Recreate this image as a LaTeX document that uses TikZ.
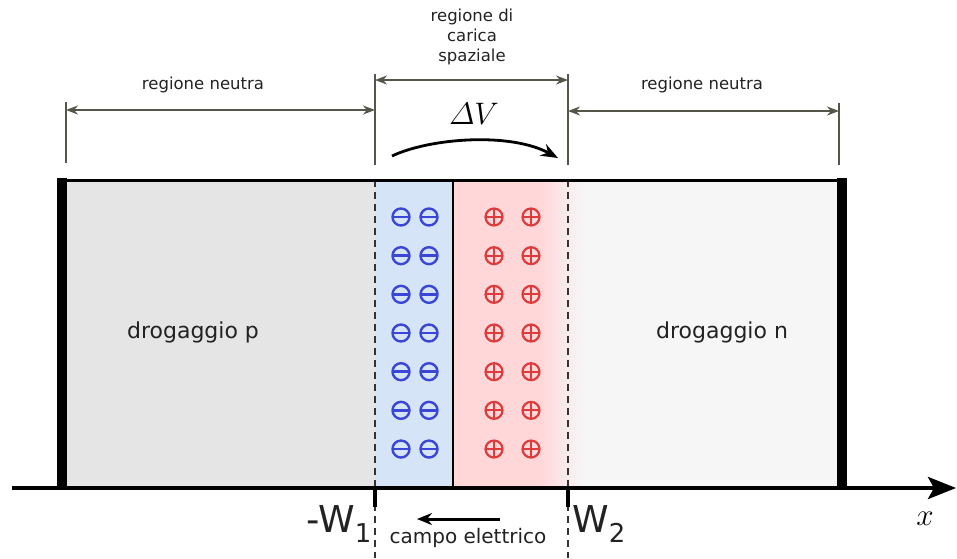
\documentclass[tikz,border=0pt]{standalone}
\usepackage{fontspec}
\setmainfont{DejaVu Sans}
\usetikzlibrary{arrows.meta}
\definecolor{pgray}{HTML}{E5E5E5}
\definecolor{ngray}{HTML}{F6F6F6}
\definecolor{dblue}{HTML}{D6E4F8}
\definecolor{dred}{HTML}{FFD7D9}
\definecolor{dimcol}{HTML}{55554A}
\definecolor{negcol}{HTML}{3A46D6}
\definecolor{poscol}{HTML}{DE3C3C}
\definecolor{txtcol}{HTML}{222222}

\begin{document}
\begin{tikzpicture}[x=1pt,y=-1pt,
  dimline/.style={draw=dimcol, line width=1.8pt},
  dimarrow/.style={dimline, {Stealth[length=12pt,width=9pt]}-{Stealth[length=12pt,width=9pt]}},
  lbl/.style={font=\fontsize{16.5}{20}\selectfont, text=txtcol, align=center, inner sep=0pt},
  doplbl/.style={font=\fontsize{22}{26}\selectfont, text=txtcol, inner sep=0pt},
  wlbl/.style={font=\fontsize{37}{40}\selectfont, text=txtcol, inner sep=0pt},
  mathlbl/.style={font=\fontsize{24.88}{28}\selectfont, inner sep=0pt},
  edgeline/.style={dashed, dash pattern=on 7pt off 5pt, line width=1.4pt, draw=black!80},
  negion/.style={circle, draw=negcol, line width=2.4pt, minimum size=17pt, inner sep=0pt,
    path picture={\draw[negcol, line width=2.4pt]
      (path picture bounding box.west) -- (path picture bounding box.east);}},
  posion/.style={circle, draw=poscol, line width=2.2pt, minimum size=17pt, inner sep=0pt,
    path picture={\draw[poscol, line width=1.8pt]
      (path picture bounding box.west) -- (path picture bounding box.east)
      (path picture bounding box.north) -- (path picture bounding box.south);}}
]
\useasboundingbox (0,0) rectangle (957,558);

% regions of the junction
\fill[pgray] (67,180) rectangle (375,488);
\fill[dblue] (375,180) rectangle (453,488);
\fill[ngray] (568,180) rectangle (837,488);
\fill[dred] (453,180) rectangle (540,488);
\shade[left color=dred, right color=ngray] (540,180) rectangle (582,488);

% fixed charges
\foreach \r in {0,...,6} {
  \pgfmathsetmacro{\yy}{217+38.67*\r}
  \node[negion] (neg\r a) at (401,\yy) {};
  \node[negion] (neg\r b) at (429,\yy) {};
  \node[posion] (pos\r a) at (494,\yy) {};
  \node[posion] (pos\r b) at (531,\yy) {};
}

% metallurgical junction and depletion edges
\draw[line width=2pt] (453,180) -- (453,488);
\coordinate (eL top) at (375,180);
\coordinate (eL bot) at (375,558);
\coordinate (eR top) at (568,180);
\coordinate (eR bot) at (568,558);
\draw[edgeline] (eL top) -- (eL bot);
\draw[edgeline] (eR top) -- (eR bot);

% device outline and contacts
\draw[line width=3pt] (57,180) -- (847,180);
\fill (57,178) rectangle (67,490);
\fill (837,178) rectangle (847,490);

% x axis
\coordinate (axL) at (12,488);
\coordinate (axR) at (956,488);
\draw[line width=4pt, -{Stealth[length=28pt,width=22pt,inset=6pt]}] (axL) -- (axR);
\node[mathlbl, scale=1.25] (xlab) at (925,519) {$x$};

% ticks at the depletion edges
\draw[line width=4.5pt] (375,488) -- (375,507);
\draw[line width=4.5pt] (568,488) -- (568,507);
\node[wlbl, anchor=base east] (w1) at (372,532) {-W\textsubscript{1}};
\node[wlbl, anchor=base west] (w2) at (572,532) {W\textsubscript{2}};

% electric field
\coordinate (fS) at (500,519);
\coordinate (fE) at (417,519);
\draw[line width=3pt, -{Stealth[length=15pt,width=12pt]}] (fS) -- (fE);
\node[font=\fontsize{20}{24}\selectfont, text=txtcol, inner sep=0pt, anchor=base] (field) at (468,543) {campo elettrico};

% doping labels
\node[doplbl] (dp) at (193,332) {drogaggio p};
\node[doplbl] (dn) at (722,332) {drogaggio n};

% dimension lines above the device
\coordinate (dA1) at (66,102);  \coordinate (dA2) at (66,163);
\coordinate (dB1) at (375,74);  \coordinate (dB2) at (375,165);
\coordinate (dC1) at (568,74);  \coordinate (dC2) at (568,165);
\coordinate (dD1) at (839,103); \coordinate (dD2) at (839,165);
\draw[dimline] (dA1) -- (dA2);
\draw[dimline] (dB1) -- (dB2);
\draw[dimline] (dC1) -- (dC2);
\draw[dimline] (dD1) -- (dD2);
\coordinate (hA1) at (66,110);  \coordinate (hA2) at (375,110);
\coordinate (hB1) at (375,80);  \coordinate (hB2) at (568,80);
\coordinate (hC1) at (568,111); \coordinate (hC2) at (839,111);
\draw[dimarrow] (hA1) -- (hA2);
\draw[dimarrow] (hB1) -- (hB2);
\draw[dimarrow] (hC1) -- (hC2);

\node[lbl] (nl) at (203,85) {regione neutra};
\node[lbl] (nr) at (702,85) {regione neutra};
\node[lbl] (sc) at (472,37) {regione di\\carica\\spaziale};

% potential step
\node[mathlbl, scale=1.25] (dv) at (474,114) {$\mathnormal{\Delta} V$};
\coordinate (vS) at (392,156);
\coordinate (vE) at (558,158);
\draw[line width=2.8pt, -{Stealth[length=17pt,width=13pt]}] (vS) .. controls (430,138) and (510,132) .. (vE);
\end{tikzpicture}
\end{document}
